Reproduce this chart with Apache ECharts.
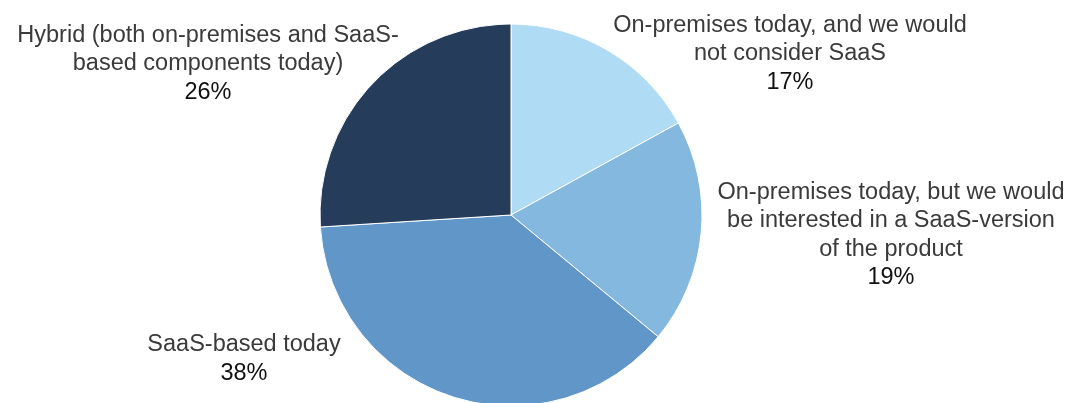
<!DOCTYPE html>
<html>
<head>
<meta charset="utf-8">
<script src="https://cdn.jsdelivr.net/npm/echarts@6/dist/echarts.min.js"></script>
<style>
  html, body { margin: 0; padding: 0; background: #fff; }
  #pie_chart { width: 1080px; height: 403px; }
</style>
</head>
<body>
<div id="pie_chart"></div>
<script>
var categories = [
    'On-premises today, and we would\nnot consider SaaS',
    'On-premises today, but we would\nbe interested in a SaaS-version\nof the product',
    'SaaS-based today',
    'Hybrid (both on-premises and SaaS-\nbased components today)'
];
var shares = [17, 19, 38, 26]; // %
var colors = ['#B0DBF5', '#85B8DF', '#6196C8', '#253D5B'];
// label centre points in px
var labelPos = [[790, 54], [891, 235], [244, 359], [208, 64]];

var myChart = echarts.init(document.getElementById('pie_chart'));

var pieData = [];
for (var i = 0; i < shares.length; i++) {
    pieData.push({
        name: categories[i],
        value: shares[i],
        itemStyle: { color: colors[i] }
    });
}

var option = {
    animation: false,
    series: [
        {
            type: 'pie',
            center: [511, 215],
            radius: 191,
            startAngle: 90,
            clockwise: true,
            data: pieData,
            itemStyle: {
                borderColor: '#fff',
                borderWidth: 1
            },
            labelLine: { show: false },
            label: {
                show: true,
                position: 'outside',
                overflow: 'none',
                formatter: function (p) {
                    var lines = p.name.split('\n');
                    var s = lines.map(function (l) { return '{n|' + l + '}'; }).join('\n');
                    return s + '\n{p|' + p.value + '%}';
                },
                align: 'center',
                rich: {
                    n: {
                        fontFamily: 'Liberation Sans, Arial, sans-serif',
                        fontSize: 23.5,
                        color: '#3a3a3a',
                        lineHeight: 28.5,
                        align: 'center'
                    },
                    p: {
                        fontFamily: 'Liberation Sans, Arial, sans-serif',
                        fontSize: 23.5,
                        color: '#111',
                        lineHeight: 28.5,
                        align: 'center'
                    }
                }
            },
            labelLayout: function (params) {
                var pos = labelPos[params.dataIndex];
                return {
                    x: pos[0],
                    y: pos[1],
                    align: 'center',
                    verticalAlign: 'middle'
                };
            }
        }
    ]
};

myChart.setOption(option);
</script>
</body>
</html>
